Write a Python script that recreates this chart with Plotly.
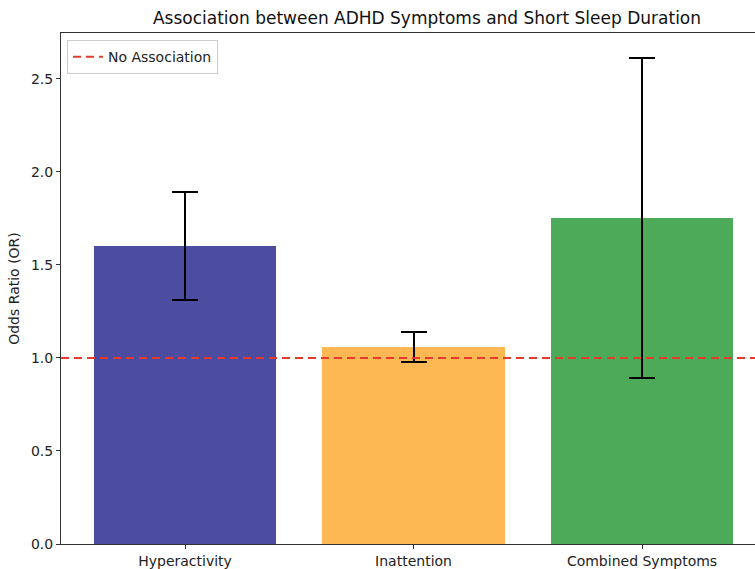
import plotly.graph_objects as go

categories = ["Hyperactivity", "Inattention", "Combined Symptoms"]
odds_ratio = [1.60, 1.06, 1.75]
ci_lower = [1.31, 0.98, 0.89]
ci_upper = [1.89, 1.14, 2.61]
bar_colors = ["#4c4ca0", "#fdb853", "#4caa58"]
yticks = [0.0, 0.5, 1.0, 1.5, 2.0, 2.5]
reference_or = 1.0

xpos = list(range(len(categories)))
err_plus = [u - v for u, v in zip(ci_upper, odds_ratio)]
err_minus = [v - l for v, l in zip(odds_ratio, ci_lower)]

W, H = 755, 569
ml, mr, mt, mb = 61, 0, 33, 22
x_range = [-0.543, 2.4945]

fig = go.Figure()
fig.add_trace(go.Bar(
    x=xpos, y=odds_ratio, width=0.8,
    marker=dict(color=bar_colors, line=dict(width=0)),
    error_y=dict(type="data", symmetric=False, array=err_plus, arrayminus=err_minus,
                 color="black", thickness=2, width=13),
    showlegend=False,
))
fig.add_trace(go.Scatter(
    x=[x_range[0], x_range[1] + 1], y=[reference_or, reference_or], mode="lines",
    line=dict(color="#e83a2c", width=2, dash="8px,5px"),
    name="No Association", showlegend=True,
))

fig.update_layout(
    width=W, height=H,
    margin=dict(l=ml, r=mr, t=mt, b=mb, pad=0),
    paper_bgcolor="white", plot_bgcolor="white",
    font=dict(family="DejaVu Sans", size=14, color="#222"),
    title=dict(text="Association between ADHD Symptoms and Short Sleep Duration",
               x=427 / W, xanchor="center", xref="container", y=1 - 18 / H, yanchor="middle",
               yref="container", font=dict(size=17, color="#111")),
    legend=dict(x=0.0086, y=0.986, xanchor="left", yanchor="top",
                bordercolor="#cccccc", borderwidth=1, bgcolor="rgba(255,255,255,0.85)",
                font=dict(size=14, color="#222"), itemwidth=30),
    bargap=0,
)
fig.update_xaxes(
    range=x_range, tickvals=xpos, ticktext=categories,
    showgrid=False, zeroline=False, showline=True, linecolor="#333", linewidth=1,
    mirror=True, ticks="outside", ticklen=4, tickcolor="#333",
    tickfont=dict(size=14, color="#222"),
)
fig.update_yaxes(
    range=[0, 2.746], tickvals=yticks, ticktext=[f"{t:.1f}" for t in yticks],
    showgrid=False, zeroline=False, showline=True, linecolor="#333", linewidth=1,
    ticks="outside", ticklen=4, tickcolor="#333",
    tickfont=dict(size=14, color="#222"),
    title=dict(text="Odds Ratio (OR)", font=dict(size=14, color="#222"), standoff=8),
)

fig.write_html("out.html", config={"displayModeBar": False},
               post_script="document.body.style.margin='0px';document.body.style.overflow='hidden';")
